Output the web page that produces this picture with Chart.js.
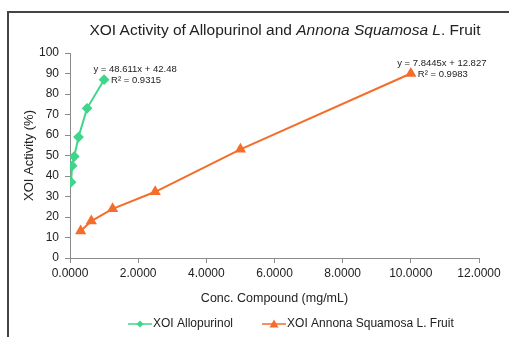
<!DOCTYPE html>
<html>
<head>
<meta charset="utf-8">
<script src="https://cdn.jsdelivr.net/npm/chart.js@4/dist/chart.umd.min.js"></script>
<style>
  html, body { margin: 0; padding: 0; background: #fff; }
  #wrap { position: relative; width: 509px; height: 337px; overflow: hidden; }
  #frame { position: absolute; left: 7px; top: 11px; width: 520px; height: 340px;
           border-left: 2px solid #444; border-top: 2px solid #444; box-sizing: border-box; }
  #title { position: absolute; left: 0; width: 570px; top: 21px; text-align: center;
           font-family: "Liberation Sans", Arial, sans-serif; font-size: 15.5px; color: #222; white-space: nowrap; }
  canvas { position: absolute; left: 0; top: 0; }
</style>
</head>
<body>
<div id="wrap">
  <canvas id="c" width="509" height="337"></canvas>
  <div id="frame"></div>
  <div id="title">XOI Activity of Allopurinol and <i>Annona Squamosa L</i>. Fruit</div>
</div>
<script>
// Data
const allopurinolConc = [0.03125, 0.0625, 0.125, 0.25, 0.5, 1.0];
const allopurinolActivity = [37, 45, 49.5, 59, 73, 87];
const annonaConc = [0.3125, 0.625, 1.25, 2.5, 5, 10];
const annonaActivity = [13.2, 18, 24, 32.3, 53, 90];
const seriesNames = ["XOI Allopurinol", "XOI Annona Squamosa L. Fruit"];
const trendLabels = [["y = 48.611x + 42.48", "R\u00B2 = 0.9315"], ["y = 7.8445x + 12.827", "R\u00B2 = 0.9983"]];
const xTicks = [0, 2, 4, 6, 8, 10, 12];
const yTicks = [0, 10, 20, 30, 40, 50, 60, 70, 80, 90, 100];

const GREEN = "#3fd68b";
const ORANGE = "#f56d2a";
const TEXT = "#222";
const FONT = "'Liberation Sans', Arial, sans-serif";

function toPoints(xs, ys) { return xs.map((x, i) => ({ x: x, y: ys[i] })); }

function drawMarker(g, style, cx, cy) {
  g.beginPath();
  if (style === "rectRot") {
    g.moveTo(cx, cy - 3.5); g.lineTo(cx + 3.5, cy); g.lineTo(cx, cy + 3.5); g.lineTo(cx - 3.5, cy);
  } else {
    g.moveTo(cx, cy - 4.5); g.lineTo(cx + 4.5, cy + 3.5); g.lineTo(cx - 4.5, cy + 3.5);
  }
  g.closePath(); g.fill();
}

const overlayPlugin = {
  id: "overlay",
  afterDraw(chart) {
    const ctx = chart.ctx;
    const xs = chart.scales.x, ys = chart.scales.y;
    ctx.save();
    // trendline equations anchored at the last point of each series
    ctx.font = "9.5px " + FONT;
    ctx.fillStyle = TEXT;
    ctx.textBaseline = "middle";
    const sets = [[allopurinolConc, allopurinolActivity], [annonaConc, annonaActivity]];
    sets.forEach((s, i) => {
      const n = s[0].length - 1;
      const px = xs.getPixelForValue(s[0][n]);
      const py = ys.getPixelForValue(s[1][n]);
      ctx.textAlign = "center";
      ctx.fillText(trendLabels[i][0], px + 31, py - 10);
      ctx.textAlign = "left";
      ctx.fillText(trendLabels[i][1], px + 7, py + 1);
    });
    // legend
    ctx.font = "12px " + FONT;
    ctx.textAlign = "left";
    let x = 128;
    const y = 324;
    chart.data.datasets.forEach(d => {
      ctx.strokeStyle = d.borderColor; ctx.fillStyle = d.borderColor; ctx.lineWidth = 1.5;
      ctx.beginPath(); ctx.moveTo(x, y); ctx.lineTo(x + 24, y); ctx.stroke();
      drawMarker(ctx, d.pointStyle, x + 12, y);
      ctx.fillStyle = TEXT;
      ctx.fillText(d.label, x + 25, y);
      x += 25 + ctx.measureText(d.label).width + 29;
    });
    ctx.restore();
  }
};

new Chart(document.getElementById("c"), {
  type: "scatter",
  data: {
    datasets: [
      { label: seriesNames[0], data: toPoints(allopurinolConc, allopurinolActivity), showLine: true,
        borderColor: GREEN, backgroundColor: GREEN, borderWidth: 2, pointStyle: "rectRot",
        pointRadius: 4, pointHoverRadius: 4 },
      { label: seriesNames[1], data: toPoints(annonaConc, annonaActivity), showLine: true,
        borderColor: ORANGE, backgroundColor: ORANGE, borderWidth: 2, pointStyle: "triangle",
        pointRadius: 4.5, pointHoverRadius: 4.5 }
    ]
  },
  options: {
    responsive: false,
    animation: false,
    layout: { padding: { left: 10, right: 30, top: 53, bottom: 31 } },
    plugins: {
      title: { display: false },
      tooltip: { enabled: false },
      legend: { display: false }
    },
    scales: {
      x: {
        type: "linear", min: 0, max: 12,
        afterBuildTicks(s) { s.ticks = xTicks.map(v => ({ value: v })); },
        afterFit(s) { s.height = 48; },
        ticks: { callback: v => Number(v).toFixed(4), color: TEXT, font: { family: FONT, size: 12 }, padding: 3, maxRotation: 0 },
        grid: { drawOnChartArea: false, color: "#8c8c8c", tickLength: 5 },
        border: { color: "#8c8c8c" },
        title: { display: true, text: "Conc. Compound (mg/mL)", color: TEXT, font: { family: FONT, size: 12.5 }, padding: { top: 4, bottom: 0 } }
      },
      y: {
        type: "linear", min: 0, max: 100,
        afterBuildTicks(s) { s.ticks = yTicks.map(v => ({ value: v })); },
        afterFit(s) { s.width = 60; },
        ticks: { color: TEXT, font: { family: FONT, size: 12 }, padding: 6 },
        grid: { drawOnChartArea: false, color: "#8c8c8c", tickLength: 5 },
        border: { color: "#8c8c8c" },
        title: { display: true, text: "XOI Activity (%)", color: TEXT, font: { family: FONT, size: 13 }, padding: { top: 12, bottom: 0 } }
      }
    }
  },
  plugins: [overlayPlugin]
});
</script>
</body>
</html>
